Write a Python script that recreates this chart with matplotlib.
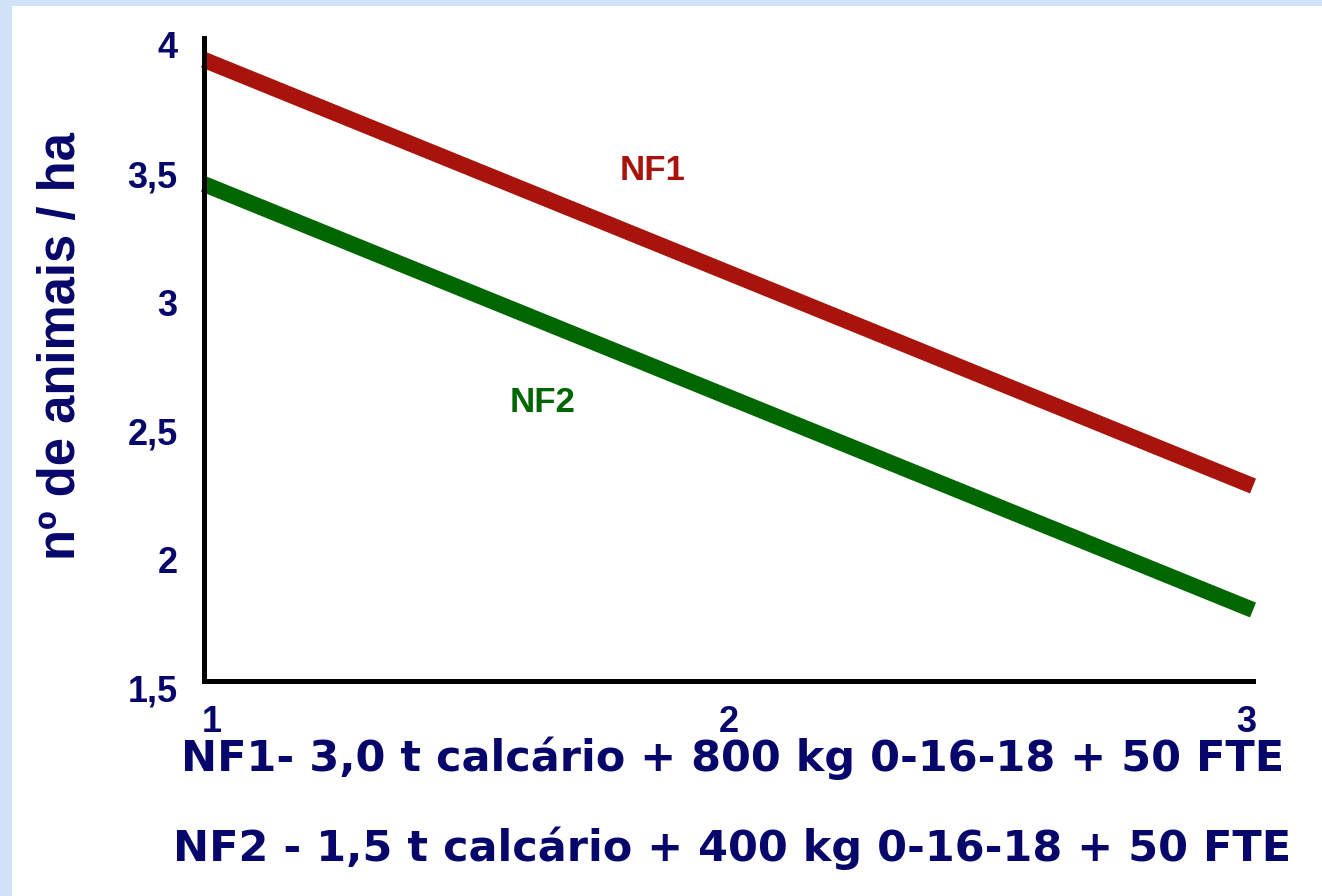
import matplotlib
matplotlib.use('Agg')
import matplotlib.pyplot as plt
import matplotlib.transforms as mtransforms
from matplotlib.patches import Rectangle

# data
x_vals = [1, 2, 3]
nf1_vals = [3.915, 3.087, 2.258]
nf2_vals = [3.432, 2.604, 1.776]
y_ticks = [1.5, 2, 2.5, 3, 3.5, 4]
y_tick_labels = ['1,5', '2', '2,5', '3', '3,5', '4']
x_ticks = [1, 2, 3]
x_tick_labels = ['1', '2', '3']
legend_lines = ['NF1- 3,0 t calcário + 800 kg 0-16-18 + 50 FTE',
                'NF2 - 1,5 t calcário + 400 kg 0-16-18 + 50 FTE']

navy = '#07076b'
red = '#a8130b'
green = '#006600'

fig = plt.figure(figsize=(13.22, 8.96), dpi=100, facecolor='#cfe2f6')
# white slide area (blue strip on the left and top)
fig.patches.append(Rectangle((12 / 1322, 0), 1, 1 - 6 / 896, transform=fig.transFigure,
                             facecolor='white', edgecolor='none', zorder=-10))

ax = fig.add_axes([204 / 1322, 215 / 896, 1049 / 1322, 643 / 896])
ax.set_facecolor('none')

ax.plot(x_vals, nf1_vals, color=red, lw=11.5, solid_capstyle='butt', clip_on=False)
ax.plot(x_vals, nf2_vals, color=green, lw=11.5, solid_capstyle='butt', clip_on=False)

ax.set_xlim(1, 3)
ax.set_ylim(1.5, 4)

for s in ['top', 'right']:
    ax.spines[s].set_visible(False)
for s in ['left', 'bottom']:
    ax.spines[s].set_linewidth(3.6)
    ax.spines[s].set_color('black')

ax.set_yticks(y_ticks)
ax.set_yticklabels(y_tick_labels)
ax.set_xticks(x_ticks)
ax.set_xticklabels(x_tick_labels)
ax.tick_params(length=0, labelcolor=navy, labelsize=26)
ax.tick_params(axis='y', pad=19)
ax.tick_params(axis='x', pad=17)
for lab in ax.get_yticklabels() + ax.get_xticklabels():
    lab.set_fontfamily('Liberation Sans')
    lab.set_fontweight('bold')
# y tick labels sit a little below their ticks
off = mtransforms.ScaledTranslation(0, -7 / 100, fig.dpi_scale_trans)
for lab in ax.get_yticklabels():
    lab.set_transform(lab.get_transform() + off)
# outer x tick labels are pulled slightly inwards
xl = ax.get_xticklabels()
xl[0].set_transform(xl[0].get_transform() + mtransforms.ScaledTranslation(8 / 100, 0, fig.dpi_scale_trans))
xl[-1].set_transform(xl[-1].get_transform() + mtransforms.ScaledTranslation(-7 / 100, 0, fig.dpi_scale_trans))

ax.set_ylabel('nº de animais / ha', fontsize=36.5, fontweight='bold', color=navy,
              family='Liberation Sans')
ax.yaxis.set_label_coords(86 / 1322, 1 - 346 / 896, transform=fig.transFigure)

ax.text(1.856, 3.483, 'NF1', color=red, fontsize=25, fontweight='bold',
        family='Liberation Sans', ha='center', va='center')
ax.text(1.646, 2.581, 'NF2', color=green, fontsize=25, fontweight='bold',
        family='Liberation Sans', ha='center', va='center')

fig.text(733 / 1322, 1 - 758 / 896, legend_lines[0], color=navy, fontsize=31,
         fontweight='bold', family='DejaVu Sans', ha='center', va='center')
fig.text(732 / 1322, 1 - 848 / 896, legend_lines[1], color=navy, fontsize=31,
         fontweight='bold', family='DejaVu Sans', ha='center', va='center')

fig.savefig('out.png', dpi=100, facecolor=fig.get_facecolor())
